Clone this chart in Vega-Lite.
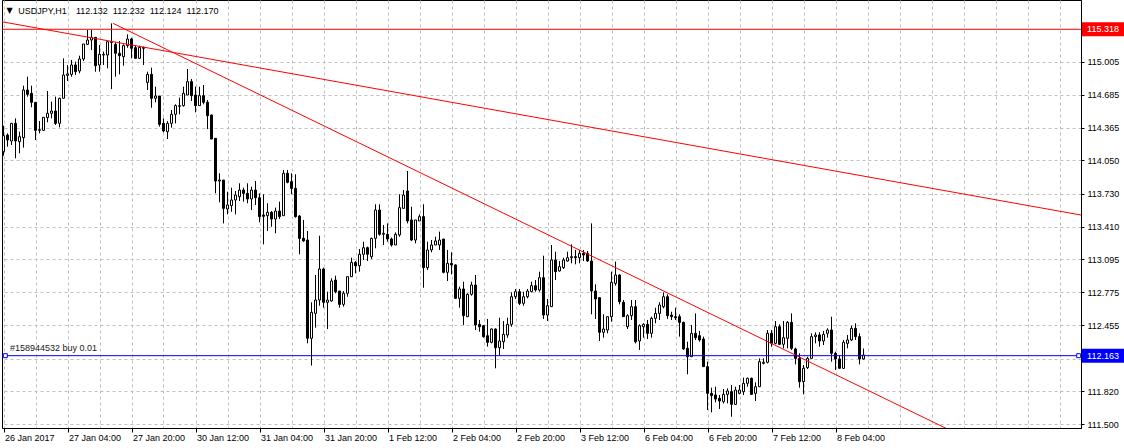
{
  "$schema": "https://vega.github.io/schema/vega-lite/v6.json",
  "width": 1079,
  "height": 428,
  "autosize": {"type": "none"},
  "padding": {"left": 2, "top": 0, "right": 43, "bottom": 20},
  "background": "white",
  "config": {
    "font": "Liberation Sans",
    "view": {"stroke": "black", "strokeWidth": 1},
    "scale": {"continuousPadding": 0},
    "axis": {"labelFont": "Liberation Sans", "labelFontSize": 9, "labelColor": "black", "gridColor": "#c0c0c0", "gridDash": [3, 3], "gridWidth": 1, "domainColor": "black", "tickColor": "black", "title": null, "labelOverlap": false, "labelBound": false, "labelFlush": false},
    "text": {"font": "Liberation Sans", "fontSize": 9}
  },
  "datasets": {
    "candles": [
      {"i":0,"o":114.135,"h":114.386,"l":114.096,"c":114.290},
      {"i":1,"o":114.296,"h":114.312,"l":114.183,"c":114.248},
      {"i":2,"o":114.238,"h":114.409,"l":114.199,"c":114.409},
      {"i":3,"o":114.409,"h":114.457,"l":114.071,"c":114.238},
      {"i":4,"o":114.232,"h":114.328,"l":114.119,"c":114.280},
      {"i":5,"o":114.270,"h":114.773,"l":114.174,"c":114.731},
      {"i":6,"o":114.731,"h":114.860,"l":114.667,"c":114.689},
      {"i":7,"o":114.699,"h":114.773,"l":114.564,"c":114.612},
      {"i":8,"o":114.612,"h":114.612,"l":114.248,"c":114.341},
      {"i":9,"o":114.341,"h":114.431,"l":114.312,"c":114.348},
      {"i":10,"o":114.341,"h":114.467,"l":114.335,"c":114.467},
      {"i":11,"o":114.464,"h":114.721,"l":114.419,"c":114.506},
      {"i":12,"o":114.506,"h":114.618,"l":114.457,"c":114.528},
      {"i":13,"o":114.528,"h":114.667,"l":114.393,"c":114.409},
      {"i":14,"o":114.409,"h":114.657,"l":114.370,"c":114.651},
      {"i":15,"o":114.651,"h":115.037,"l":114.651,"c":114.876},
      {"i":16,"o":114.873,"h":114.973,"l":114.818,"c":114.886},
      {"i":17,"o":114.882,"h":115.021,"l":114.860,"c":114.973},
      {"i":18,"o":114.973,"h":115.005,"l":114.876,"c":114.908},
      {"i":19,"o":114.915,"h":115.063,"l":114.892,"c":115.031},
      {"i":20,"o":115.031,"h":115.176,"l":115.011,"c":115.176},
      {"i":21,"o":115.172,"h":115.311,"l":115.166,"c":115.214},
      {"i":22,"o":115.214,"h":115.311,"l":115.118,"c":115.240},
      {"i":23,"o":115.240,"h":115.240,"l":114.908,"c":114.966},
      {"i":24,"o":114.973,"h":115.166,"l":114.908,"c":115.076},
      {"i":25,"o":115.069,"h":115.102,"l":114.973,"c":115.076},
      {"i":26,"o":115.069,"h":115.198,"l":114.941,"c":115.198},
      {"i":27,"o":115.198,"h":115.375,"l":114.741,"c":115.192},
      {"i":28,"o":115.172,"h":115.192,"l":114.860,"c":115.086},
      {"i":29,"o":115.086,"h":115.205,"l":114.882,"c":115.063},
      {"i":30,"o":115.053,"h":115.172,"l":114.966,"c":115.160},
      {"i":31,"o":115.160,"h":115.269,"l":115.140,"c":115.224},
      {"i":32,"o":115.224,"h":115.237,"l":115.037,"c":115.134},
      {"i":33,"o":115.140,"h":115.160,"l":115.037,"c":115.037},
      {"i":34,"o":115.037,"h":115.160,"l":115.031,"c":115.143},
      {"i":35,"o":115.143,"h":115.150,"l":114.973,"c":115.134},
      {"i":36,"o":114.805,"h":114.908,"l":114.731,"c":114.882},
      {"i":37,"o":114.882,"h":114.947,"l":114.560,"c":114.651},
      {"i":38,"o":114.651,"h":114.763,"l":114.612,"c":114.673},
      {"i":39,"o":114.673,"h":114.673,"l":114.377,"c":114.399},
      {"i":40,"o":114.409,"h":114.457,"l":114.322,"c":114.335},
      {"i":41,"o":114.328,"h":114.431,"l":114.257,"c":114.409},
      {"i":42,"o":114.409,"h":114.538,"l":114.367,"c":114.496},
      {"i":43,"o":114.496,"h":114.593,"l":114.409,"c":114.580},
      {"i":44,"o":114.573,"h":114.657,"l":114.496,"c":114.580},
      {"i":45,"o":114.580,"h":114.763,"l":114.570,"c":114.699},
      {"i":46,"o":114.683,"h":114.934,"l":114.683,"c":114.812},
      {"i":47,"o":114.812,"h":114.837,"l":114.625,"c":114.676},
      {"i":48,"o":114.683,"h":114.763,"l":114.515,"c":114.580},
      {"i":49,"o":114.580,"h":114.763,"l":114.580,"c":114.676},
      {"i":50,"o":114.676,"h":114.779,"l":114.593,"c":114.612},
      {"i":51,"o":114.612,"h":114.634,"l":114.354,"c":114.483},
      {"i":52,"o":114.489,"h":114.496,"l":114.257,"c":114.257},
      {"i":53,"o":114.264,"h":114.264,"l":113.732,"c":113.851},
      {"i":54,"o":113.851,"h":113.926,"l":113.645,"c":113.861},
      {"i":55,"o":113.861,"h":113.861,"l":113.442,"c":113.587},
      {"i":56,"o":113.581,"h":113.748,"l":113.529,"c":113.620},
      {"i":57,"o":113.613,"h":113.787,"l":113.555,"c":113.668},
      {"i":58,"o":113.668,"h":113.755,"l":113.529,"c":113.716},
      {"i":59,"o":113.700,"h":113.829,"l":113.658,"c":113.764},
      {"i":60,"o":113.764,"h":113.787,"l":113.652,"c":113.732},
      {"i":61,"o":113.732,"h":113.829,"l":113.636,"c":113.678},
      {"i":62,"o":113.678,"h":113.797,"l":113.571,"c":113.764},
      {"i":63,"o":113.764,"h":113.851,"l":113.620,"c":113.690},
      {"i":64,"o":113.690,"h":113.732,"l":113.452,"c":113.507},
      {"i":65,"o":113.523,"h":113.723,"l":113.239,"c":113.510},
      {"i":66,"o":113.516,"h":113.636,"l":113.368,"c":113.549},
      {"i":67,"o":113.549,"h":113.561,"l":113.410,"c":113.484},
      {"i":68,"o":113.484,"h":113.594,"l":113.346,"c":113.561},
      {"i":69,"o":113.561,"h":113.652,"l":113.484,"c":113.507},
      {"i":70,"o":113.516,"h":113.958,"l":113.516,"c":113.926},
      {"i":71,"o":113.926,"h":113.958,"l":113.829,"c":113.839},
      {"i":72,"o":113.845,"h":113.926,"l":113.723,"c":113.780},
      {"i":73,"o":113.780,"h":113.916,"l":113.497,"c":113.507},
      {"i":74,"o":113.513,"h":113.523,"l":113.143,"c":113.297},
      {"i":75,"o":113.297,"h":113.475,"l":113.265,"c":113.272},
      {"i":76,"o":113.281,"h":113.368,"l":112.282,"c":112.331},
      {"i":77,"o":112.331,"h":112.679,"l":112.067,"c":112.582},
      {"i":78,"o":112.572,"h":112.943,"l":112.434,"c":112.701},
      {"i":79,"o":112.701,"h":113.323,"l":112.646,"c":113.001},
      {"i":80,"o":113.001,"h":113.014,"l":112.627,"c":112.679},
      {"i":81,"o":112.679,"h":112.782,"l":112.421,"c":112.701},
      {"i":82,"o":112.692,"h":112.911,"l":112.685,"c":112.885},
      {"i":83,"o":112.894,"h":112.936,"l":112.766,"c":112.782},
      {"i":84,"o":112.788,"h":112.788,"l":112.627,"c":112.659},
      {"i":85,"o":112.659,"h":112.788,"l":112.637,"c":112.766},
      {"i":86,"o":112.766,"h":112.927,"l":112.733,"c":112.927},
      {"i":87,"o":112.927,"h":113.110,"l":112.927,"c":113.065},
      {"i":88,"o":113.065,"h":113.078,"l":112.959,"c":113.033},
      {"i":89,"o":113.033,"h":113.194,"l":112.975,"c":113.143},
      {"i":90,"o":113.143,"h":113.265,"l":113.088,"c":113.207},
      {"i":91,"o":113.207,"h":113.217,"l":113.078,"c":113.143},
      {"i":92,"o":113.120,"h":113.304,"l":113.098,"c":113.297},
      {"i":93,"o":113.297,"h":113.626,"l":113.201,"c":113.571},
      {"i":94,"o":113.571,"h":113.626,"l":113.323,"c":113.336},
      {"i":95,"o":113.336,"h":113.426,"l":113.233,"c":113.346},
      {"i":96,"o":113.336,"h":113.442,"l":113.265,"c":113.291},
      {"i":97,"o":113.291,"h":113.304,"l":113.217,"c":113.233},
      {"i":98,"o":113.233,"h":113.355,"l":113.233,"c":113.336},
      {"i":99,"o":113.330,"h":113.723,"l":113.313,"c":113.594},
      {"i":100,"o":113.587,"h":113.764,"l":113.587,"c":113.716},
      {"i":101,"o":113.755,"h":113.948,"l":113.442,"c":113.465},
      {"i":102,"o":113.475,"h":113.603,"l":113.272,"c":113.281},
      {"i":103,"o":113.281,"h":113.475,"l":113.249,"c":113.475},
      {"i":104,"o":113.465,"h":113.529,"l":113.465,"c":113.507},
      {"i":105,"o":113.507,"h":113.626,"l":112.820,"c":113.014},
      {"i":106,"o":113.014,"h":113.265,"l":112.991,"c":113.185},
      {"i":107,"o":113.185,"h":113.281,"l":113.162,"c":113.233},
      {"i":108,"o":113.233,"h":113.313,"l":113.233,"c":113.272},
      {"i":109,"o":113.233,"h":113.362,"l":113.185,"c":113.281},
      {"i":110,"o":113.291,"h":113.291,"l":112.959,"c":112.969},
      {"i":111,"o":112.969,"h":113.185,"l":112.885,"c":113.056},
      {"i":112,"o":113.056,"h":113.162,"l":112.949,"c":113.040},
      {"i":113,"o":113.040,"h":113.046,"l":112.717,"c":112.717},
      {"i":114,"o":112.717,"h":112.830,"l":112.627,"c":112.808},
      {"i":115,"o":112.808,"h":112.878,"l":112.460,"c":112.550},
      {"i":116,"o":112.540,"h":112.766,"l":112.540,"c":112.756},
      {"i":117,"o":112.756,"h":112.878,"l":112.743,"c":112.846},
      {"i":118,"o":112.846,"h":112.943,"l":112.411,"c":112.460},
      {"i":119,"o":112.466,"h":112.508,"l":112.395,"c":112.443},
      {"i":120,"o":112.453,"h":112.460,"l":112.337,"c":112.347},
      {"i":121,"o":112.356,"h":112.518,"l":112.250,"c":112.292},
      {"i":122,"o":112.292,"h":112.427,"l":112.282,"c":112.421},
      {"i":123,"o":112.421,"h":112.427,"l":112.041,"c":112.240},
      {"i":124,"o":112.240,"h":112.530,"l":112.163,"c":112.305},
      {"i":125,"o":112.298,"h":112.498,"l":112.228,"c":112.369},
      {"i":126,"o":112.363,"h":112.530,"l":112.337,"c":112.466},
      {"i":127,"o":112.466,"h":112.775,"l":112.443,"c":112.733},
      {"i":128,"o":112.733,"h":112.808,"l":112.711,"c":112.782},
      {"i":129,"o":112.782,"h":112.808,"l":112.653,"c":112.669},
      {"i":130,"o":112.669,"h":112.782,"l":112.646,"c":112.733},
      {"i":131,"o":112.733,"h":112.808,"l":112.717,"c":112.788},
      {"i":132,"o":112.782,"h":112.878,"l":112.775,"c":112.840},
      {"i":133,"o":112.840,"h":112.894,"l":112.782,"c":112.798},
      {"i":134,"o":112.798,"h":112.975,"l":112.782,"c":112.917},
      {"i":135,"o":112.917,"h":113.130,"l":112.518,"c":112.556},
      {"i":136,"o":112.556,"h":112.711,"l":112.498,"c":112.646},
      {"i":137,"o":112.637,"h":113.233,"l":112.637,"c":113.088},
      {"i":138,"o":113.088,"h":113.168,"l":112.894,"c":112.975},
      {"i":139,"o":112.982,"h":113.078,"l":112.975,"c":113.023},
      {"i":140,"o":113.014,"h":113.110,"l":113.001,"c":113.088},
      {"i":141,"o":113.078,"h":113.168,"l":113.072,"c":113.110},
      {"i":142,"o":113.110,"h":113.239,"l":113.056,"c":113.120},
      {"i":143,"o":113.120,"h":113.185,"l":113.046,"c":113.110},
      {"i":144,"o":113.110,"h":113.185,"l":113.056,"c":113.152},
      {"i":145,"o":113.152,"h":113.185,"l":113.078,"c":113.136},
      {"i":146,"o":113.152,"h":113.175,"l":113.072,"c":113.078},
      {"i":147,"o":113.078,"h":113.442,"l":112.563,"c":112.788},
      {"i":148,"o":112.788,"h":112.853,"l":112.518,"c":112.711},
      {"i":149,"o":112.724,"h":112.724,"l":112.305,"c":112.389},
      {"i":150,"o":112.389,"h":112.563,"l":112.337,"c":112.421},
      {"i":151,"o":112.411,"h":112.540,"l":112.379,"c":112.540},
      {"i":152,"o":112.540,"h":112.975,"l":112.492,"c":112.872},
      {"i":153,"o":112.862,"h":113.072,"l":112.840,"c":112.943},
      {"i":154,"o":112.943,"h":112.949,"l":112.659,"c":112.685},
      {"i":155,"o":112.679,"h":112.701,"l":112.540,"c":112.540},
      {"i":156,"o":112.443,"h":112.563,"l":112.421,"c":112.550},
      {"i":157,"o":112.550,"h":112.701,"l":112.508,"c":112.637},
      {"i":158,"o":112.637,"h":112.701,"l":112.282,"c":112.298},
      {"i":159,"o":112.305,"h":112.466,"l":112.218,"c":112.453},
      {"i":160,"o":112.443,"h":112.476,"l":112.337,"c":112.466},
      {"i":161,"o":112.466,"h":112.508,"l":112.324,"c":112.379},
      {"i":162,"o":112.379,"h":112.540,"l":112.337,"c":112.524},
      {"i":163,"o":112.524,"h":112.627,"l":112.476,"c":112.572},
      {"i":164,"o":112.572,"h":112.679,"l":112.508,"c":112.653},
      {"i":165,"o":112.637,"h":112.775,"l":112.621,"c":112.733},
      {"i":166,"o":112.733,"h":112.756,"l":112.518,"c":112.550},
      {"i":167,"o":112.556,"h":112.588,"l":112.508,"c":112.540},
      {"i":168,"o":112.540,"h":112.627,"l":112.508,"c":112.530},
      {"i":169,"o":112.540,"h":112.563,"l":112.347,"c":112.485},
      {"i":170,"o":112.485,"h":112.492,"l":112.218,"c":112.228},
      {"i":171,"o":112.234,"h":112.298,"l":111.983,"c":112.153},
      {"i":172,"o":112.153,"h":112.460,"l":112.153,"c":112.379},
      {"i":173,"o":112.379,"h":112.572,"l":112.315,"c":112.337},
      {"i":174,"o":112.356,"h":112.402,"l":112.298,"c":112.315},
      {"i":175,"o":112.324,"h":112.347,"l":112.057,"c":112.057},
      {"i":176,"o":112.057,"h":112.105,"l":111.638,"c":111.799},
      {"i":177,"o":111.799,"h":111.854,"l":111.615,"c":111.777},
      {"i":178,"o":111.783,"h":111.863,"l":111.712,"c":111.744},
      {"i":179,"o":111.751,"h":111.783,"l":111.648,"c":111.725},
      {"i":180,"o":111.718,"h":111.841,"l":111.702,"c":111.789},
      {"i":181,"o":111.789,"h":111.847,"l":111.702,"c":111.822},
      {"i":182,"o":111.815,"h":111.880,"l":111.573,"c":111.693},
      {"i":183,"o":111.693,"h":111.863,"l":111.686,"c":111.831},
      {"i":184,"o":111.799,"h":111.880,"l":111.789,"c":111.831},
      {"i":185,"o":111.815,"h":111.951,"l":111.783,"c":111.896},
      {"i":186,"o":111.896,"h":111.951,"l":111.863,"c":111.944},
      {"i":187,"o":111.944,"h":111.951,"l":111.783,"c":111.789},
      {"i":188,"o":111.799,"h":111.905,"l":111.725,"c":111.863},
      {"i":189,"o":111.863,"h":112.137,"l":111.863,"c":112.105},
      {"i":190,"o":112.089,"h":112.137,"l":112.079,"c":112.099},
      {"i":191,"o":112.099,"h":112.411,"l":112.089,"c":112.379},
      {"i":192,"o":112.379,"h":112.411,"l":112.250,"c":112.282},
      {"i":193,"o":112.282,"h":112.498,"l":112.273,"c":112.443},
      {"i":194,"o":112.443,"h":112.466,"l":112.266,"c":112.273},
      {"i":195,"o":112.273,"h":112.498,"l":112.234,"c":112.337},
      {"i":196,"o":112.331,"h":112.498,"l":112.234,"c":112.485},
      {"i":197,"o":112.485,"h":112.572,"l":112.218,"c":112.234},
      {"i":198,"o":112.228,"h":112.240,"l":112.079,"c":112.137},
      {"i":199,"o":112.137,"h":112.186,"l":111.854,"c":111.912},
      {"i":200,"o":111.912,"h":112.073,"l":111.789,"c":112.041},
      {"i":201,"o":112.047,"h":112.153,"l":112.034,"c":112.137},
      {"i":202,"o":112.137,"h":112.379,"l":112.137,"c":112.347},
      {"i":203,"o":112.347,"h":112.389,"l":112.282,"c":112.363},
      {"i":204,"o":112.363,"h":112.389,"l":112.250,"c":112.305},
      {"i":205,"o":112.305,"h":112.402,"l":112.266,"c":112.369},
      {"i":206,"o":112.379,"h":112.427,"l":112.337,"c":112.411},
      {"i":207,"o":112.411,"h":112.540,"l":112.105,"c":112.186},
      {"i":208,"o":112.186,"h":112.202,"l":112.025,"c":112.131},
      {"i":209,"o":112.131,"h":112.169,"l":112.041,"c":112.041},
      {"i":210,"o":112.041,"h":112.315,"l":112.034,"c":112.292},
      {"i":211,"o":112.282,"h":112.363,"l":112.234,"c":112.315},
      {"i":212,"o":112.315,"h":112.453,"l":112.305,"c":112.427},
      {"i":213,"o":112.427,"h":112.476,"l":112.315,"c":112.347},
      {"i":214,"o":112.347,"h":112.379,"l":112.079,"c":112.131},
      {"i":215,"o":112.132,"h":112.232,"l":112.124,"c":112.170}
    ],
    "trend": [
      {"id":"A","i":-1,"p":115.395},
      {"id":"A","i":270,"p":113.518},
      {"id":"B","i":27.4,"p":115.375},
      {"id":"B","i":240,"p":111.379}
    ],
    "levels": [
      {"kind":"tp","p":115.318,"label":"115.318"},
      {"kind":"order","p":112.163,"label":"112.163"}
    ],
    "order": [
      {"p":112.163,"text":"#158944532 buy 0.01"}
    ],
    "header": [
      {"sym":"USDJPY,H1","ohlc":"112.132\u00a0\u00a0112.232\u00a0\u00a0112.124\u00a0\u00a0112.170"}
    ]
  },
  "layer": [
    {
      "data": {"name": "candles"},
      "mark": {"type": "rule", "color": "black", "strokeWidth": 1},
      "encoding": {
        "x": {"field": "i", "type": "quantitative",
          "scale": {"domain": [-0.375, 269.375], "nice": false, "zero": false, "padding": 0},
          "axis": {"orient": "bottom", "values": [0,8,16,24,32,40,48,56,64,72,80,88,96,104,112,120,128,136,144,152,160,168,176,184,192,200,208,216,224,232,240,248,256,264],
            "tickCount": 60, "grid": true, "domain": true, "ticks": true, "tickSize": 4,
            "tickOpacity": {"condition": {"test": "datum.value % 16 === 0 && datum.value <= 208", "value": 1}, "value": 0},
            "labelExpr": "(datum.value % 16 === 0 && datum.value <= 208) ? ['26 Jan 2017','27 Jan 04:00','27 Jan 20:00','30 Jan 12:00','31 Jan 04:00','31 Jan 20:00','1 Feb 12:00','2 Feb 04:00','2 Feb 20:00','3 Feb 12:00','6 Feb 04:00','6 Feb 20:00','7 Feb 12:00','8 Feb 04:00'][datum.value / 16] : ''",
            "labelAlign": "left", "labelOffset": 1, "labelPadding": 1, "labelOverlap": false, "labelBound": false, "labelFlush": false}},
        "y": {"field": "l", "type": "quantitative",
          "scale": {"domain": [111.464, 115.601], "nice": false, "zero": false, "padding": 0},
          "axis": {"orient": "right", "values": [115.005,114.685,114.365,114.05,113.73,113.41,113.095,112.775,112.455,112.135,111.82,111.5],
            "tickCount": 30, "format": ".3f", "grid": true, "tickSize": 3, "labelPadding": 3, "labelOverlap": false, "labelBound": false, "labelFlush": false}},
        "y2": {"field": "h"}
      }
    },
    {
      "data": {"name": "candles"},
      "mark": {"type": "bar", "size": 2, "stroke": "black", "strokeWidth": 1},
      "encoding": {
        "x": {"field": "i", "type": "quantitative", "scale": {"domain": [-0.375, 269.375], "nice": false, "zero": false, "padding": 0}},
        "y": {"field": "o", "type": "quantitative", "scale": {"domain": [111.464, 115.601], "nice": false, "zero": false, "padding": 0}},
        "y2": {"field": "c"},
        "fill": {"condition": {"test": "datum.c >= datum.o", "value": "white"}, "value": "black"}
      }
    },
    {
      "data": {"name": "trend"},
      "mark": {"type": "line", "color": "#ff0000", "strokeWidth": 1, "clip": true},
      "encoding": {
        "x": {"field": "i", "type": "quantitative", "scale": {"domain": [-0.375, 269.375], "nice": false, "zero": false, "padding": 0}},
        "y": {"field": "p", "type": "quantitative", "scale": {"domain": [111.464, 115.601], "nice": false, "zero": false, "padding": 0}},
        "detail": {"field": "id"}
      }
    },
    {
      "data": {"name": "levels"},
      "mark": {"type": "rule", "strokeWidth": 1},
      "encoding": {
        "y": {"field": "p", "type": "quantitative", "scale": {"domain": [111.464, 115.601], "nice": false, "zero": false, "padding": 0}},
        "color": {"field": "kind", "type": "nominal", "scale": {"domain": ["tp", "order"], "range": ["#ff0000", "#0000ff"]}, "legend": null}
      }
    },
    {
      "data": {"name": "order"},
      "mark": {"type": "point", "shape": "square", "size": 16, "filled": true, "fill": "white", "stroke": "#0000ff", "strokeWidth": 1, "opacity": 1, "clip": false},
      "encoding": {
        "x": {"datum": 0.45, "type": "quantitative", "scale": {"domain": [-0.375, 269.375], "nice": false, "zero": false, "padding": 0}},
        "y": {"field": "p", "type": "quantitative", "scale": {"domain": [111.464, 115.601], "nice": false, "zero": false, "padding": 0}}
      }
    },
    {
      "data": {"name": "order"},
      "mark": {"type": "point", "shape": "square", "size": 16, "filled": true, "fill": "white", "stroke": "#0000ff", "strokeWidth": 1, "opacity": 1, "clip": false},
      "encoding": {
        "x": {"datum": 268.8, "type": "quantitative", "scale": {"domain": [-0.375, 269.375], "nice": false, "zero": false, "padding": 0}},
        "y": {"field": "p", "type": "quantitative", "scale": {"domain": [111.464, 115.601], "nice": false, "zero": false, "padding": 0}}
      }
    },
    {
      "data": {"name": "order"},
      "mark": {"type": "text", "align": "left", "baseline": "middle", "color": "#202020"},
      "encoding": {
        "x": {"datum": 1.625, "type": "quantitative", "scale": {"domain": [-0.375, 269.375], "nice": false, "zero": false, "padding": 0}},
        "y": {"datum": 112.237, "type": "quantitative", "scale": {"domain": [111.464, 115.601], "nice": false, "zero": false, "padding": 0}},
        "text": {"field": "text"}
      }
    },
    {
      "data": {"name": "header"},
      "mark": {"type": "text", "align": "left", "baseline": "middle", "color": "black", "font": "DejaVu Sans", "fontSize": 8},
      "encoding": {
        "x": {"datum": 0.75, "type": "quantitative", "scale": {"domain": [-0.375, 269.375], "nice": false, "zero": false, "padding": 0}},
        "y": {"datum": 115.4995, "type": "quantitative", "scale": {"domain": [111.464, 115.601], "nice": false, "zero": false, "padding": 0}},
        "text": {"value": "▼"}
      }
    },
    {
      "data": {"name": "header"},
      "mark": {"type": "text", "align": "left", "baseline": "middle", "color": "black"},
      "encoding": {
        "x": {"datum": 3.7, "type": "quantitative", "scale": {"domain": [-0.375, 269.375], "nice": false, "zero": false, "padding": 0}},
        "y": {"datum": 115.4995, "type": "quantitative", "scale": {"domain": [111.464, 115.601], "nice": false, "zero": false, "padding": 0}},
        "text": {"field": "sym"}
      }
    },
    {
      "data": {"name": "header"},
      "mark": {"type": "text", "align": "left", "baseline": "middle", "color": "black"},
      "encoding": {
        "x": {"datum": 18.125, "type": "quantitative", "scale": {"domain": [-0.375, 269.375], "nice": false, "zero": false, "padding": 0}},
        "y": {"datum": 115.4995, "type": "quantitative", "scale": {"domain": [111.464, 115.601], "nice": false, "zero": false, "padding": 0}},
        "text": {"field": "ohlc"}
      }
    },
    {
      "data": {"name": "levels"},
      "mark": {"type": "bar", "orient": "horizontal", "size": 14, "clip": false},
      "encoding": {
        "x": {"datum": 269.625, "type": "quantitative", "scale": {"domain": [-0.375, 269.375], "nice": false, "zero": false, "padding": 0}},
        "x2": {"datum": 280.5},
        "y": {"field": "p", "type": "quantitative", "scale": {"domain": [111.464, 115.601], "nice": false, "zero": false, "padding": 0}},
        "color": {"field": "kind", "type": "nominal", "legend": null}
      }
    },
    {
      "data": {"name": "levels"},
      "mark": {"type": "text", "align": "left", "baseline": "middle", "color": "white", "clip": false},
      "encoding": {
        "x": {"datum": 270.9, "type": "quantitative", "scale": {"domain": [-0.375, 269.375], "nice": false, "zero": false, "padding": 0}},
        "y": {"field": "p", "type": "quantitative", "scale": {"domain": [111.464, 115.601], "nice": false, "zero": false, "padding": 0}},
        "text": {"field": "label"}
      }
    }
  ]
}
